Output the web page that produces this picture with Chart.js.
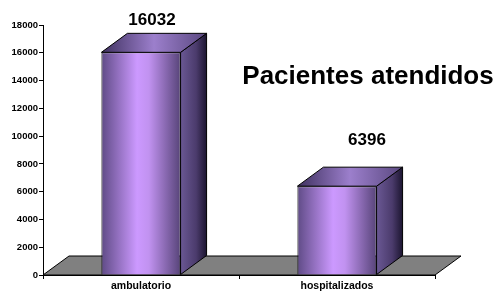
<!DOCTYPE html>
<html>
<head>
<meta charset="utf-8">
<script src="https://cdn.jsdelivr.net/npm/chart.js@4"></script>
<style>
  html, body { margin: 0; padding: 0; background: #fff; }
  #wrap { width: 496px; height: 292px; }
</style>
</head>
<body>
<div id="wrap"><canvas id="chart"></canvas></div>
<script>
const categories = ['ambulatorio', 'hospitalizados'];
const pacientes = [16032, 6396];
const yTicks = [0, 2000, 4000, 6000, 8000, 10000, 12000, 14000, 16000, 18000];
const chartTitle = 'Pacientes atendidos';

const FONT = '"Liberation Sans", Arial, sans-serif';
const DX = 26, DY = 19;          // depth of the 3D effect
const BAR_PCT = 0.404;
const labelShift = [[11, -27], [30, -41]];   // value label placement, like the original

function frontGradient(c) {
    const chart = c.chart;
    const xs = chart.scales.x;
    if (!xs || !chart.chartArea) return '#b38ae6';
    const cx = xs.getPixelForValue(c.dataIndex);
    const w = (xs.right - xs.left) / categories.length * BAR_PCT;
    const g = chart.ctx.createLinearGradient(cx - w / 2, 0, cx + w / 2, 0);
    g.addColorStop(0, '#5f4b86');
    g.addColorStop(0.45, '#cc99ff');
    g.addColorStop(0.6, '#c192f0');
    g.addColorStop(1, '#574479');
    return g;
}

const box3d = {
    id: 'box3d',
    beforeDatasetsDraw(chart) {
        const ctx = chart.ctx;
        const a = chart.chartArea;
        const y0 = chart.scales.y.getPixelForValue(0);
        ctx.save();
        ctx.beginPath();
        ctx.moveTo(a.left, y0);
        ctx.lineTo(a.left + DX, y0 - DY);
        ctx.lineTo(a.right + DX, y0 - DY);
        ctx.lineTo(a.right, y0);
        ctx.closePath();
        ctx.fillStyle = '#808080';
        ctx.fill();
        ctx.strokeStyle = '#000';
        ctx.lineWidth = 1;
        ctx.stroke();
        ctx.restore();
    },
    afterDatasetsDraw(chart) {
        const ctx = chart.ctx;
        const meta = chart.getDatasetMeta(0);
        ctx.save();
        ctx.strokeStyle = '#000';
        ctx.lineWidth = 1;
        meta.data.forEach((bar, i) => {
            const l = bar.x - bar.width / 2, r = bar.x + bar.width / 2;
            const t = bar.y, b = bar.base;
            // side face
            let g = ctx.createLinearGradient(r, 0, r + DX, 0);
            g.addColorStop(0, '#6a5894');
            g.addColorStop(0.6, '#4b3b6c');
            g.addColorStop(1, '#1c1530');
            ctx.beginPath();
            ctx.moveTo(r, t);
            ctx.lineTo(r + DX, t - DY);
            ctx.lineTo(r + DX, b - DY);
            ctx.lineTo(r, b);
            ctx.closePath();
            ctx.fillStyle = g;
            ctx.fill();
            ctx.stroke();
            // top face
            g = ctx.createLinearGradient(l, 0, r + DX, 0);
            g.addColorStop(0, '#3f3160');
            g.addColorStop(0.5, '#9c7fcc');
            g.addColorStop(1, '#5a4880');
            ctx.beginPath();
            ctx.moveTo(l, t);
            ctx.lineTo(l + DX, t - DY);
            ctx.lineTo(r + DX, t - DY);
            ctx.lineTo(r, t);
            ctx.closePath();
            ctx.fillStyle = g;
            ctx.fill();
            ctx.stroke();
            // value label
            ctx.fillStyle = '#000';
            ctx.font = 'bold 17px ' + FONT;
            ctx.textAlign = 'center';
            ctx.textBaseline = 'alphabetic';
            ctx.fillText(String(pacientes[i]), bar.x + labelShift[i][0], t + labelShift[i][1]);
        });
        ctx.restore();
    },
    afterDraw(chart) {
        const ctx = chart.ctx;
        const a = chart.chartArea;
        ctx.save();
        ctx.fillStyle = '#000';
        ctx.font = 'bold 26px ' + FONT;
        ctx.textAlign = 'center';
        ctx.textBaseline = 'alphabetic';
        ctx.fillText(chartTitle, a.right - 67, a.top + 59);
        ctx.restore();
    }
};

new Chart(document.getElementById('chart'), {
    type: 'bar',
    data: {
        labels: categories,
        datasets: [{
            label: chartTitle,
            data: pacientes,
            backgroundColor: frontGradient,
            borderColor: '#000',
            borderWidth: 1,
            categoryPercentage: 1,
            barPercentage: BAR_PCT
        }]
    },
    options: {
        responsive: true,
        maintainAspectRatio: false,
        animation: false,
        layout: { padding: { top: 25, right: 61, bottom: 0, left: 0 } },
        plugins: {
            legend: { display: false },
            tooltip: { enabled: false }
        },
        scales: {
            x: {
                grid: { display: true, drawOnChartArea: false, drawTicks: true, tickLength: 4, color: '#000', offset: true },
                border: { display: true, color: '#000' },
                ticks: { color: '#000', padding: 1, font: { family: FONT, size: 10.5, weight: 'bold' }, maxRotation: 0 },
                afterFit(s) { s.height = 17; }
            },
            y: {
                min: 0,
                max: 18000,
                afterBuildTicks(s) { s.ticks = yTicks.map(v => ({ value: v })); },
                grid: { display: true, drawOnChartArea: false, drawTicks: true, tickLength: 4, color: '#000' },
                border: { display: true, color: '#000' },
                ticks: {
                    color: '#000', padding: 1,
                    font: { family: FONT, size: 9.5, weight: 'bold' },
                    callback: v => String(v)
                },
                afterFit(s) { s.width = 43; }
            }
        }
    },
    plugins: [box3d]
});
</script>
</body>
</html>
